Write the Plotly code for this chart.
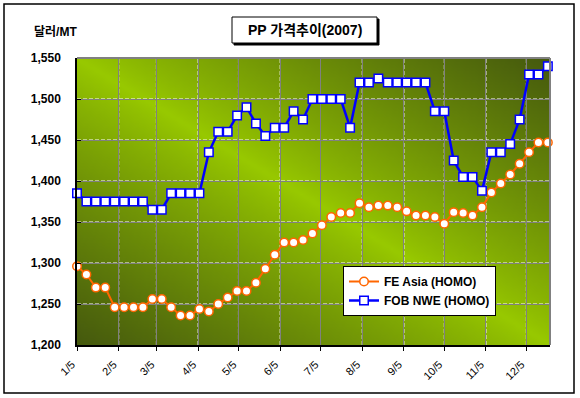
import base64, struct, zlib
import numpy as np
import plotly.graph_objects as go

# ---------------- data ----------------
dates = ["2007-01-05", "2007-01-12", "2007-01-19", "2007-01-26",
         "2007-02-02", "2007-02-09", "2007-02-16", "2007-02-23",
         "2007-03-02", "2007-03-09", "2007-03-16", "2007-03-23", "2007-03-30",
         "2007-04-06", "2007-04-13", "2007-04-20", "2007-04-27",
         "2007-05-04", "2007-05-11", "2007-05-18", "2007-05-25",
         "2007-06-01", "2007-06-08", "2007-06-15", "2007-06-22", "2007-06-29",
         "2007-07-06", "2007-07-13", "2007-07-20", "2007-07-27",
         "2007-08-03", "2007-08-10", "2007-08-17", "2007-08-24", "2007-08-31",
         "2007-09-07", "2007-09-14", "2007-09-21", "2007-09-28",
         "2007-10-05", "2007-10-12", "2007-10-19", "2007-10-26",
         "2007-11-02", "2007-11-09", "2007-11-16", "2007-11-23", "2007-11-30",
         "2007-12-07", "2007-12-14", "2007-12-21"]

fe_asia = [1296, 1286, 1270, 1270, 1246, 1246, 1246, 1246, 1256, 1256,
           1246, 1236, 1236, 1244, 1241, 1250, 1258, 1266, 1266, 1276,
           1293, 1310, 1325, 1325, 1328, 1336, 1346, 1356, 1361, 1361,
           1373, 1368, 1370, 1370, 1368, 1363, 1358, 1358, 1356, 1348,
           1362, 1361, 1358, 1368, 1386, 1397, 1408, 1421, 1435, 1447, 1447]

fob_nwe = [1385, 1375, 1375, 1375, 1375, 1375, 1375, 1375, 1365, 1365,
           1385, 1385, 1385, 1385, 1435, 1460, 1460, 1480, 1490, 1470,
           1455, 1465, 1465, 1485, 1475, 1500, 1500, 1500, 1500, 1465,
           1520, 1520, 1525, 1520, 1520, 1520, 1520, 1520, 1485, 1485,
           1425, 1405, 1405, 1388, 1435, 1435, 1445, 1475, 1530, 1530, 1540]

tick_dates = ["2007-01-05", "2007-02-05", "2007-03-05", "2007-04-05",
              "2007-05-05", "2007-06-05", "2007-07-05", "2007-08-05",
              "2007-09-05", "2007-10-05", "2007-11-05", "2007-12-05"]
tick_labels = ["1/5", "2/5", "3/5", "4/5", "5/5", "6/5", "7/5",
               "8/5", "9/5", "10/5", "11/5", "12/5"]
y_ticks = [1200, 1250, 1300, 1350, 1400, 1450, 1500, 1550]

title_text = "PP 가격추이(2007)"
y_unit = "달러/MT"

# ---------------- gradient background image ----------------
def make_png(arr):
    h, w, _ = arr.shape
    raw = b"".join(b"\x00" + arr[i].tobytes() for i in range(h))
    def chunk(tag, data):
        c = struct.pack(">I", len(data)) + tag + data
        return c + struct.pack(">I", zlib.crc32(tag + data) & 0xffffffff)
    png = b"\x89PNG\r\n\x1a\n"
    png += chunk(b"IHDR", struct.pack(">IIBBBBB", w, h, 8, 2, 0, 0, 0))
    png += chunk(b"IDAT", zlib.compress(raw, 9))
    png += chunk(b"IEND", b"")
    return "data:image/png;base64," + base64.b64encode(png).decode()

GW, GH = 160, 100
u = np.linspace(0, 1, GW)[None, :]
v = np.linspace(0, 1, GH)[:, None]
t = np.clip(np.abs(u - v), 0, 1) ** 0.85
bright = np.array([153, 202, 0], dtype=float)
dark = np.array([70, 90, 14], dtype=float)
img = bright[None, None, :] * (1 - t[..., None]) + dark[None, None, :] * t[..., None]
img = np.clip(img, 0, 255).astype(np.uint8)
bg_uri = make_png(img)

# ---------------- layout geometry ----------------
W, H = 580, 398
L, R, T, B = 77, 30, 58, 53
PW, PH = W - L - R, H - T - B

def px(xp):
    return (xp - L) / PW

def py(yp):
    return (H - B - yp) / PH

FONT = "Arial, 'Liberation Sans', 'Noto Sans CJK KR', sans-serif"

fig = go.Figure()
fig.add_trace(go.Scatter(
    x=dates, y=fe_asia, name="FE Asia (HOMO)", mode="lines+markers",
    line=dict(color="#FF6600", width=2),
    marker=dict(symbol="circle", size=8.5, color="white",
                line=dict(color="#FF6600", width=1.5)),
    cliponaxis=False))
fig.add_trace(go.Scatter(
    x=dates, y=fob_nwe, name="FOB NWE (HOMO)", mode="lines+markers",
    line=dict(color="#0000FF", width=2.5),
    marker=dict(symbol="square", size=8.5, color="white",
                line=dict(color="#0000FF", width=1.5)),
    cliponaxis=False))

shapes = []
# white dashed grid overlay
for yv in y_ticks[1:-1]:
    shapes.append(dict(type="line", xref="paper", yref="y", x0=0, x1=1, y0=yv, y1=yv,
                       line=dict(color="white", width=1, dash="4px,2px"), layer="between"))
for xd in tick_dates[1:]:
    shapes.append(dict(type="line", xref="x", yref="paper", x0=xd, x1=xd, y0=0, y1=1,
                       line=dict(color="white", width=1, dash="4px,2px"), layer="between"))
# plot-area top/right border (grey)
shapes.append(dict(type="line", xref="paper", yref="paper", x0=0, x1=1, y0=1, y1=1,
                   line=dict(color="#808080", width=2), layer="above"))
shapes.append(dict(type="line", xref="paper", yref="paper", x0=1, x1=1, y0=0, y1=1,
                   line=dict(color="#808080", width=2), layer="above"))
# outer chart frame
shapes.append(dict(type="rect", xref="paper", yref="paper",
                   x0=px(4), x1=px(574), y0=py(393), y1=py(4),
                   line=dict(color="black", width=1.5), layer="above"))
# title box shadow + box
shapes.append(dict(type="rect", xref="paper", yref="paper",
                   x0=px(234), x1=px(379), y0=py(45), y1=py(19),
                   line=dict(color="black", width=1), fillcolor="black", layer="above"))
shapes.append(dict(type="rect", xref="paper", yref="paper",
                   x0=px(232), x1=px(377), y0=py(43), y1=py(17),
                   line=dict(color="black", width=1), fillcolor="white", layer="above"))

annotations = [
    dict(text="<b>" + title_text + "</b>", xref="paper", yref="paper",
         x=px(304.5), y=py(30), xanchor="center", yanchor="middle", showarrow=False,
         font=dict(family=FONT, size=14, color="black")),
    dict(text="<b>" + y_unit + "</b>", xref="paper", yref="paper",
         x=px(55), y=py(32), xanchor="center", yanchor="middle", showarrow=False,
         font=dict(family=FONT, size=12, color="black")),
]

fig.update_layout(
    width=W, height=H,
    margin=dict(l=L, r=R, t=T, b=B, pad=0),
    paper_bgcolor="white",
    plot_bgcolor="rgba(0,0,0,0)",
    font=dict(family=FONT, color="black"),
    showlegend=True,
    legend=dict(x=px(343), y=py(266), xanchor="left", yanchor="top",
                bgcolor="white", bordercolor="black", borderwidth=1,
                font=dict(family=FONT, size=12, color="black", weight="bold"),
                tracegroupgap=0, itemwidth=30),
    images=[dict(source=bg_uri, xref="paper", yref="paper", x=0, y=1,
                 sizex=1, sizey=1, xanchor="left", yanchor="top",
                 sizing="stretch", layer="below")],
    shapes=shapes,
    annotations=annotations,
)

fig.update_xaxes(
    type="date", range=["2007-01-05", "2007-12-22 14:00"],
    tickmode="array", tickvals=tick_dates, ticktext=tick_labels,
    tickangle=-45, tickfont=dict(family=FONT, size=11, color="black"),
    ticklabelshift=-5, ticklabelstandoff=3,
    showgrid=True, gridcolor="#808080", gridwidth=1,
    showline=True, linecolor="black", linewidth=1.5,
    ticks="outside", ticklen=4, tickcolor="black",
    zeroline=False, fixedrange=True)
fig.update_yaxes(
    range=[1200, 1550], tickmode="array", tickvals=y_ticks,
    tickformat=",", tickfont=dict(family=FONT, size=12, color="black", weight="bold"),
    showgrid=True, gridcolor="#808080", gridwidth=1,
    showline=True, linecolor="black", linewidth=1.5,
    ticks="inside", ticklen=4, tickcolor="black", ticklabelstandoff=12,
    zeroline=False, fixedrange=True)

fig.write_html("out.html", config={"displayModeBar": False},
               post_script="document.body.style.margin='0';document.body.style.overflow='hidden';")
